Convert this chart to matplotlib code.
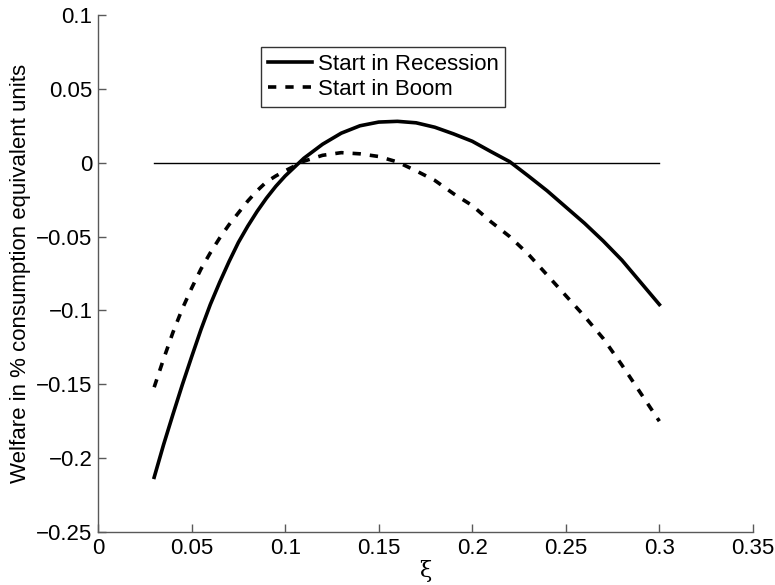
import matplotlib
matplotlib.use("Agg")
import matplotlib.pyplot as plt

plt.rcParams["font.family"] = ["Liberation Sans", "DejaVu Sans"]

# welfare gain by xi, starting in recession vs boom
xi = [0.03, 0.035, 0.04, 0.045, 0.05, 0.055, 0.06, 0.065, 0.07, 0.075,
      0.08, 0.085, 0.09, 0.095, 0.10, 0.11, 0.12, 0.13, 0.14, 0.15,
      0.16, 0.17, 0.18, 0.19, 0.20, 0.21, 0.22, 0.23, 0.24, 0.25,
      0.26, 0.27, 0.28, 0.29, 0.30]

recession = [-0.213, -0.191, -0.1705, -0.1505, -0.1315, -0.113, -0.096, -0.081,
             -0.067, -0.054, -0.043, -0.033, -0.024, -0.016, -0.009,
             0.003, 0.0125, 0.020, 0.025, 0.0275, 0.028, 0.027, 0.024,
             0.0195, 0.0145, 0.0075, 0.0007, -0.009, -0.019, -0.030,
             -0.041, -0.053, -0.066, -0.081, -0.096]

boom = [-0.152, -0.133, -0.115, -0.099, -0.085, -0.072, -0.061, -0.051,
        -0.042, -0.034, -0.026, -0.019, -0.013, -0.009, -0.0055,
        0.001, 0.005, 0.0068, 0.006, 0.0042, 0.0005, -0.0055, -0.012,
        -0.021, -0.029, -0.040, -0.050, -0.062, -0.076, -0.090,
        -0.104, -0.119, -0.137, -0.156, -0.175]

x_ticks = [0, 0.05, 0.1, 0.15, 0.2, 0.25, 0.3, 0.35]
x_tick_labels = ["0", "0.05", "0.1", "0.15", "0.2", "0.25", "0.3", "0.35"]
y_ticks = [-0.25, -0.2, -0.15, -0.1, -0.05, 0, 0.05, 0.1]
y_tick_labels = ["\u22120.25", "\u22120.2", "\u22120.15", "\u22120.1",
                 "\u22120.05", "0", "0.05", "0.1"]

fig = plt.figure(figsize=(7.75, 5.85), dpi=100)
ax = fig.add_axes([0.1265, 0.0906, 0.845, 0.8838])

ax.plot([xi[0], xi[-1]], [0, 0], color="black", linewidth=1.0)
ax.plot(xi, recession, color="black", linewidth=2.6,
        solid_joinstyle="round", label="Start in Recession")
ax.plot(xi, boom, color="black", linewidth=2.6, dashes=(2.3, 2.5),
        dash_joinstyle="round", label="Start in Boom")

ax.set_xlim(0, 0.35)
ax.set_ylim(-0.25, 0.1)
ax.set_xticks(x_ticks)
ax.set_xticklabels(x_tick_labels)
ax.set_yticks(y_ticks)
ax.set_yticklabels(y_tick_labels)

for side in ["top", "right"]:
    ax.spines[side].set_visible(False)
for side in ["left", "bottom"]:
    ax.spines[side].set_color("0.35")
    ax.spines[side].set_linewidth(1.0)

ax.tick_params(direction="in", length=6, width=1.0, color="0.35",
               labelsize=16, pad=4)

ax.set_xlabel("\u03be", fontsize=16, family="DejaVu Serif", labelpad=1)
ax.set_ylabel("Welfare in % consumption equivalent units", fontsize=16,
              labelpad=4)

leg = ax.legend(loc="upper left", bbox_to_anchor=(0.249, 0.938),
                borderaxespad=0, fontsize=16, frameon=True, fancybox=False,
                handlelength=2.0, handletextpad=0.25, borderpad=0.3,
                labelspacing=0.2)
leg.get_frame().set_edgecolor("black")
leg.get_frame().set_linewidth(1.0)

fig.savefig("out.png", dpi=100)
